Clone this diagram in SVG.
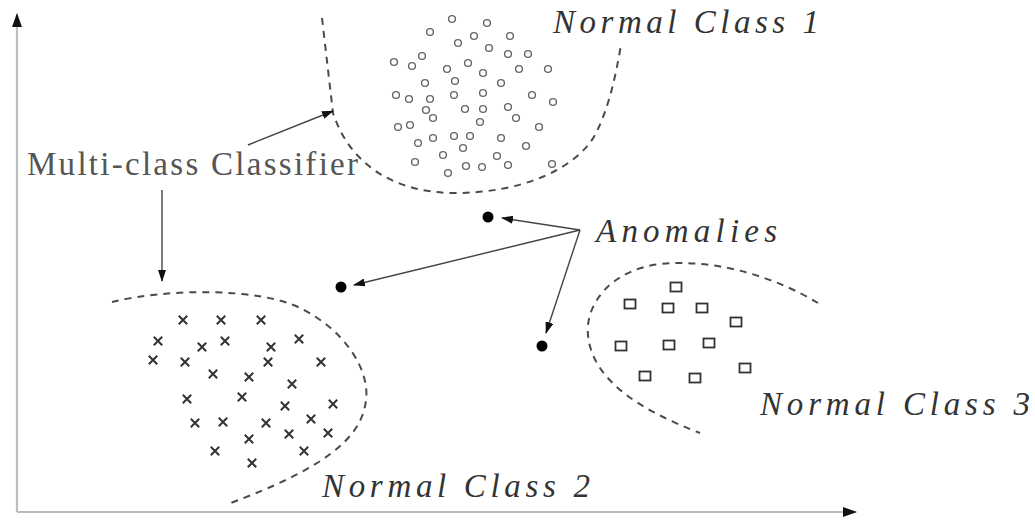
<svg xmlns="http://www.w3.org/2000/svg" width="1035" height="523" viewBox="0 0 1035 523">
<style>
.bg{fill:#fff}
.axis{stroke:#bdbdbd;stroke-width:2.2;fill:none}
.bound{stroke:#4a4a4a;stroke-width:2;fill:none;stroke-dasharray:7,6}
.conn{stroke:#444;stroke-width:1.4;fill:none}
.circ{fill:none;stroke:#666;stroke-width:1.4}
.cross{stroke:#333;stroke-width:2;fill:none}
.sq{fill:none;stroke:#333;stroke-width:1.8}
.dot{fill:#000}
.lbl{font-family:"Liberation Serif","DejaVu Serif",serif;font-style:italic;font-size:33px;fill:#333}
.lbl2{font-family:"Liberation Serif","DejaVu Serif",serif;font-size:33px;fill:#555}
</style>
<defs>
<marker id="ah" markerWidth="12" markerHeight="8" refX="11" refY="4" orient="auto" markerUnits="userSpaceOnUse">
<path d="M0,0 L12,4 L0,8 Z" fill="#111"/>
</marker>
<marker id="axh" markerWidth="14" markerHeight="10" refX="13" refY="5" orient="auto" markerUnits="userSpaceOnUse">
<path d="M0,0 L14,5 L0,10 Z" fill="#111"/>
</marker>
<circle id="c" r="3.4" class="circ"/>
<path id="x" d="M-4.2,-4.2 L4.2,4.2 M-4.2,4.2 L4.2,-4.2" class="cross"/>
<rect id="s" x="-5.5" y="-4.5" width="11" height="9" class="sq"/>
</defs>
<rect class="bg" width="1035" height="523"/>
<g id="axes">
<path class="axis" d="M17,512 L17,14" marker-end="url(#axh)"/>
<path class="axis" d="M17,512 L856,512" marker-end="url(#axh)"/>
</g>
<g id="class1">
<path class="bound" d="M322,18 L333,113 C350,165 395,193 455,193 C520,193 575,170 595,135 C608,110 615,80 621,45"/>
<use href="#c" x="452" y="19"/><use href="#c" x="487" y="23"/><use href="#c" x="430" y="32"/><use href="#c" x="474" y="36"/>
<use href="#c" x="510" y="36"/><use href="#c" x="458" y="43"/><use href="#c" x="489" y="48"/><use href="#c" x="508" y="54"/>
<use href="#c" x="528" y="54"/><use href="#c" x="394" y="62"/><use href="#c" x="412" y="66"/><use href="#c" x="422" y="56"/>
<use href="#c" x="447" y="69"/><use href="#c" x="468" y="63"/><use href="#c" x="483" y="73"/><use href="#c" x="519" y="69"/>
<use href="#c" x="548" y="69"/><use href="#c" x="425" y="83"/><use href="#c" x="455" y="81"/><use href="#c" x="501" y="83"/>
<use href="#c" x="396" y="95"/><use href="#c" x="409" y="99"/><use href="#c" x="430" y="99"/><use href="#c" x="454" y="95"/>
<use href="#c" x="483" y="93"/><use href="#c" x="532" y="95"/><use href="#c" x="553" y="102"/><use href="#c" x="426" y="110"/>
<use href="#c" x="433" y="118"/><use href="#c" x="465" y="109"/><use href="#c" x="483" y="109"/><use href="#c" x="508" y="107"/>
<use href="#c" x="516" y="118"/><use href="#c" x="480" y="122"/><use href="#c" x="398" y="127"/><use href="#c" x="410" y="125"/>
<use href="#c" x="539" y="127"/><use href="#c" x="418" y="143"/><use href="#c" x="433" y="138"/><use href="#c" x="454" y="136"/>
<use href="#c" x="470" y="136"/><use href="#c" x="501" y="138"/><use href="#c" x="463" y="148"/><use href="#c" x="526" y="146"/>
<use href="#c" x="443" y="155"/><use href="#c" x="497" y="156"/><use href="#c" x="415" y="162"/><use href="#c" x="466" y="166"/>
<use href="#c" x="482" y="167"/><use href="#c" x="508" y="165"/><use href="#c" x="448" y="173"/><use href="#c" x="552" y="164"/>
<text class="lbl" x="553" y="33" textLength="266" lengthAdjust="spacing">Normal Class 1</text>
</g>
<g id="class2">
<path class="bound" d="M112,302 C170,288 260,288 300,308 C345,330 370,370 366,400 C362,440 320,470 228,504"/>
<use href="#x" x="183" y="320"/><use href="#x" x="221" y="320"/><use href="#x" x="261" y="320"/><use href="#x" x="158" y="341"/>
<use href="#x" x="202" y="347"/><use href="#x" x="225" y="341"/><use href="#x" x="271" y="347"/><use href="#x" x="299" y="339"/>
<use href="#x" x="153" y="360"/><use href="#x" x="185" y="362"/><use href="#x" x="268" y="362"/><use href="#x" x="321" y="362"/>
<use href="#x" x="213" y="374"/><use href="#x" x="249" y="377"/><use href="#x" x="292" y="384"/><use href="#x" x="187" y="399"/>
<use href="#x" x="242" y="397"/><use href="#x" x="285" y="406"/><use href="#x" x="333" y="404"/><use href="#x" x="195" y="423"/>
<use href="#x" x="223" y="422"/><use href="#x" x="266" y="423"/><use href="#x" x="311" y="419"/><use href="#x" x="249" y="439"/>
<use href="#x" x="289" y="434"/><use href="#x" x="328" y="433"/><use href="#x" x="215" y="451"/><use href="#x" x="304" y="451"/>
<use href="#x" x="252" y="463"/>
<text class="lbl" x="322" y="497" textLength="268" lengthAdjust="spacing">Normal Class 2</text>
</g>
<g id="class3">
<path class="bound" d="M818,303 C780,280 720,258 660,264 C610,270 585,305 588,335 C592,380 640,410 700,433"/>
<use href="#s" x="676" y="287"/><use href="#s" x="630" y="304"/><use href="#s" x="668" y="308"/><use href="#s" x="702" y="308"/>
<use href="#s" x="736" y="322"/><use href="#s" x="621" y="346"/><use href="#s" x="669" y="345"/><use href="#s" x="709" y="343"/>
<use href="#s" x="645" y="376"/><use href="#s" x="695" y="378"/><use href="#s" x="745" y="368"/>
<text class="lbl" x="760" y="415" textLength="270" lengthAdjust="spacing">Normal Class 3</text>
</g>
<g id="anomalies">
<circle class="dot" cx="488" cy="217" r="5.5"/>
<circle class="dot" cx="341" cy="287" r="5.5"/>
<circle class="dot" cx="542" cy="346" r="5.5"/>
<text class="lbl" x="596" y="242" textLength="181" lengthAdjust="spacing">Anomalies</text>
</g>
<g id="classifier">
<text class="lbl2" x="27" y="175" textLength="331" lengthAdjust="spacing">Multi-class Classifier</text>
</g>
<g id="connectors">
<path class="conn" d="M248,145 L333,111" marker-end="url(#ah)"/>
<path class="conn" d="M162,190 L162,281" marker-end="url(#ah)"/>
<path class="conn" d="M580,230 L502,218" marker-end="url(#ah)"/>
<path class="conn" d="M580,230 L354,285" marker-end="url(#ah)"/>
<path class="conn" d="M580,230 L546,333" marker-end="url(#ah)"/>
</g>
</svg>
